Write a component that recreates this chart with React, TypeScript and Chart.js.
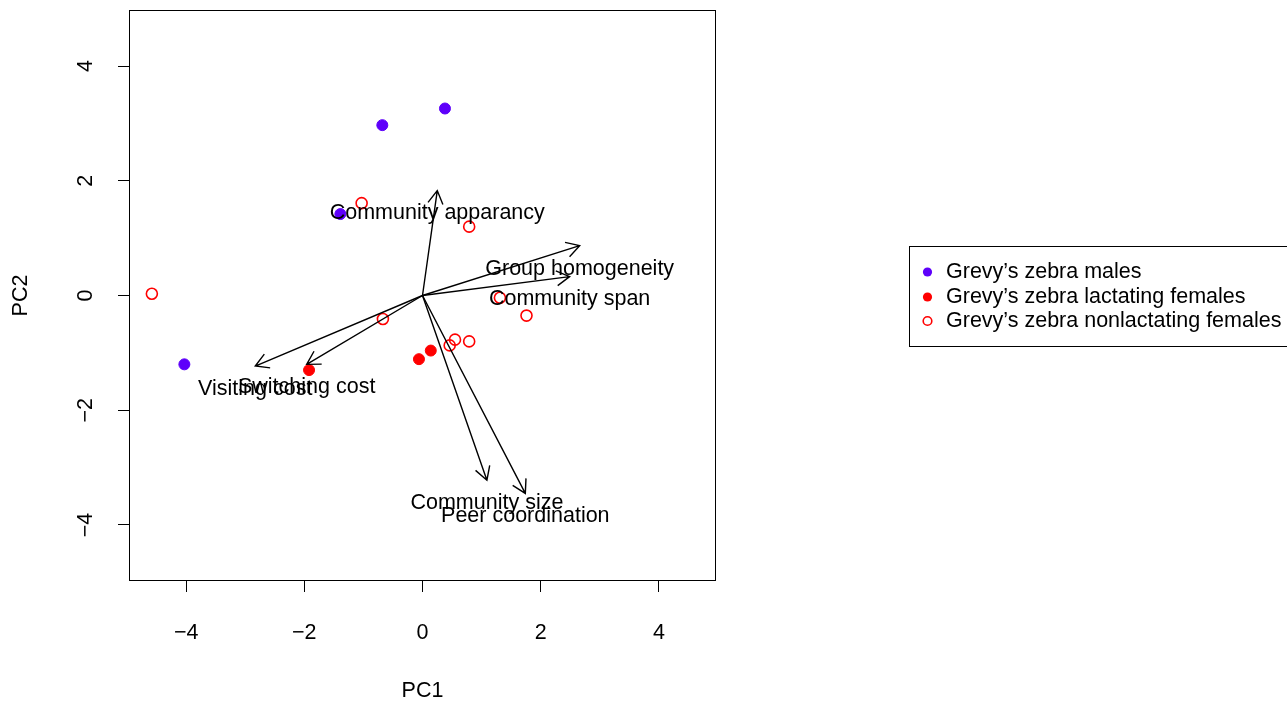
import { useEffect, useRef } from "react";
import { Chart, registerables } from "chart.js";

Chart.register(...registerables);

// ---- data ----
const seriesNames = [
  "Grevy\u2019s zebra males",
  "Grevy\u2019s zebra lactating females",
  "Grevy\u2019s zebra nonlactating females",
];
const malesX = [-0.68, 0.38, -1.39, -4.03];
const malesY = [2.97, 3.26, 1.42, -1.2];
const lactatingX = [-1.92, -0.06, 0.14];
const lactatingY = [-1.3, -1.11, -0.96];
const nonlactatingX = [-4.58, -1.03, 0.79, -0.67, 0.55, 0.46, 0.79, 1.31, 1.76];
const nonlactatingY = [0.03, 1.61, 1.2, -0.41, -0.77, -0.87, -0.8, -0.04, -0.35];

const loadingNames = [
  "Community apparancy",
  "Group homogeneity",
  "Community span",
  "Visiting cost",
  "Switching cost",
  "Community size",
  "Peer coordination",
];
const loadingX = [0.25, 2.66, 2.49, -2.83, -1.96, 1.09, 1.74];
const loadingY = [1.83, 0.87, 0.33, -1.23, -1.2, -3.22, -3.45];

const tickValues = [-4, -2, 0, 2, 4];
const xTitle = "PC1";
const yTitle = "PC2";

const PURPLE = "#5E00FA";
const RED = "#FF0000";
const FONT = '"Liberation Sans", Arial, Helvetica, sans-serif';
const FS = 21.5;

const fmt = (v: number) => (v < 0 ? "\u2212" + Math.abs(v) : String(v));

const toPts = (xs: number[], ys: number[]) => xs.map((x, i) => ({ x, y: ys[i] }));

const biplotPlugin = {
  id: "biplotExtras",
  afterDatasetsDraw(chart: any) {
    const ctx = chart.ctx;
    const xs = chart.scales.x;
    const ys = chart.scales.y;
    const ox = xs.getPixelForValue(0);
    const oy = ys.getPixelForValue(0);
    ctx.save();
    ctx.strokeStyle = "#000";
    ctx.lineWidth = 1.4;
    ctx.fillStyle = "#000";
    ctx.font = `${FS}px ${FONT}`;
    ctx.textAlign = "center";
    ctx.textBaseline = "middle";
    const headLen = 15;
    const headAng = Math.PI / 6;
    loadingNames.forEach((name, i) => {
      const tx = xs.getPixelForValue(loadingX[i]);
      const ty = ys.getPixelForValue(loadingY[i]);
      ctx.beginPath();
      ctx.moveTo(ox, oy);
      ctx.lineTo(tx, ty);
      const ang = Math.atan2(ty - oy, tx - ox);
      ctx.moveTo(tx - headLen * Math.cos(ang - headAng), ty - headLen * Math.sin(ang - headAng));
      ctx.lineTo(tx, ty);
      ctx.lineTo(tx - headLen * Math.cos(ang + headAng), ty - headLen * Math.sin(ang + headAng));
      ctx.stroke();
    });
    loadingNames.forEach((name, i) => {
      const tx = xs.getPixelForValue(loadingX[i]);
      const ty = ys.getPixelForValue(loadingY[i]);
      ctx.fillText(name, tx, ty + 23);
    });
    ctx.restore();
  },
  afterDraw(chart: any) {
    const ctx = chart.ctx;
    const ca = chart.chartArea;
    const ys = chart.scales.y;
    ctx.save();
    // box
    ctx.strokeStyle = "#000";
    ctx.lineWidth = 1;
    ctx.strokeRect(ca.left - 0.5, ca.top - 0.5, ca.right - ca.left + 1, ca.bottom - ca.top + 1);
    // y tick labels (rotated)
    ctx.fillStyle = "#000";
    ctx.font = `${FS}px ${FONT}`;
    ctx.textAlign = "center";
    ctx.textBaseline = "middle";
    tickValues.forEach((v) => {
      const py = ys.getPixelForValue(v);
      ctx.save();
      ctx.translate(86, py);
      ctx.rotate(-Math.PI / 2);
      ctx.fillText(fmt(v), 0, 0);
      ctx.restore();
    });
    // legend
    const lx = 909.5;
    const ly = 246.5;
    ctx.strokeRect(lx, ly, 400, 100);
    const rows = [272, 297, 321];
    ctx.textAlign = "left";
    seriesNames.forEach((name, i) => {
      const cy = rows[i];
      ctx.beginPath();
      ctx.arc(927.5, cy, i === 2 ? 4.3 : 4.6, 0, Math.PI * 2);
      if (i === 2) {
        ctx.strokeStyle = RED;
        ctx.lineWidth = 1.6;
        ctx.stroke();
      } else {
        ctx.fillStyle = i === 0 ? PURPLE : RED;
        ctx.fill();
      }
      ctx.fillStyle = "#000";
      ctx.fillText(name, 946, cy);
    });
    ctx.restore();
  },
};

export default function App() {
  const ref = useRef<HTMLCanvasElement | null>(null);
  useEffect(() => {
    document.body.style.margin = "0";
    const canvas = ref.current!;
    Chart.defaults.font.family = FONT;
    const chart = new Chart(canvas, {
      type: "scatter",
      data: {
        datasets: [
          {
            label: seriesNames[0],
            data: toPts(malesX, malesY),
            backgroundColor: PURPLE,
            borderColor: PURPLE,
            borderWidth: 1,
            pointRadius: 5.5,
          },
          {
            label: seriesNames[1],
            data: toPts(lactatingX, lactatingY),
            backgroundColor: RED,
            borderColor: RED,
            borderWidth: 1,
            pointRadius: 5.5,
          },
          {
            label: seriesNames[2],
            data: toPts(nonlactatingX, nonlactatingY),
            backgroundColor: "rgba(0,0,0,0)",
            borderColor: RED,
            borderWidth: 1.6,
            pointRadius: 5.5,
          },
        ],
      },
      options: {
        responsive: false,
        animation: false,
        events: [],
        layout: { padding: { left: 0, top: 11, right: 572, bottom: 0 } },
        plugins: {
          legend: { display: false },
          tooltip: { enabled: false },
          title: { display: false },
        },
        scales: {
          x: {
            type: "linear",
            min: -4.95,
            max: 4.95,
            afterBuildTicks: (s: any) => {
              s.ticks = tickValues.map((v) => ({ value: v }));
            },
            afterFit: (s: any) => {
              s.height = 124;
            },
            grid: {
              drawOnChartArea: false,
              drawTicks: true,
              tickLength: 12,
              color: "#000",
              lineWidth: 1,
            },
            border: { display: false },
            ticks: {
              color: "#000",
              font: { size: FS, family: FONT },
              padding: 28,
              maxRotation: 0,
              autoSkip: false,
              callback: (v: any) => fmt(Number(v)),
            },
            title: {
              display: true,
              text: xTitle,
              color: "#000",
              font: { size: FS, family: FONT },
              padding: { top: 0, bottom: 0 },
            },
          },
          y: {
            type: "linear",
            min: -4.96,
            max: 4.96,
            afterBuildTicks: (s: any) => {
              s.ticks = tickValues.map((v) => ({ value: v }));
            },
            afterFit: (s: any) => {
              s.width = 130;
            },
            grid: {
              drawOnChartArea: false,
              drawTicks: true,
              tickLength: 12,
              color: "#000",
              lineWidth: 1,
            },
            border: { display: false },
            ticks: { display: false },
            title: {
              display: true,
              text: yTitle,
              color: "#000",
              font: { size: FS, family: FONT },
              padding: { top: 8, bottom: 0 },
            },
          },
        },
      },
      plugins: [biplotPlugin],
    } as any);
    return () => chart.destroy();
  }, []);
  return (
    <div style={{ position: "fixed", left: 0, top: 0, width: 1287, height: 704, background: "#fff" }}>
      <canvas ref={ref} width={1287} height={704} style={{ width: 1287, height: 704 }} />
    </div>
  );
}
